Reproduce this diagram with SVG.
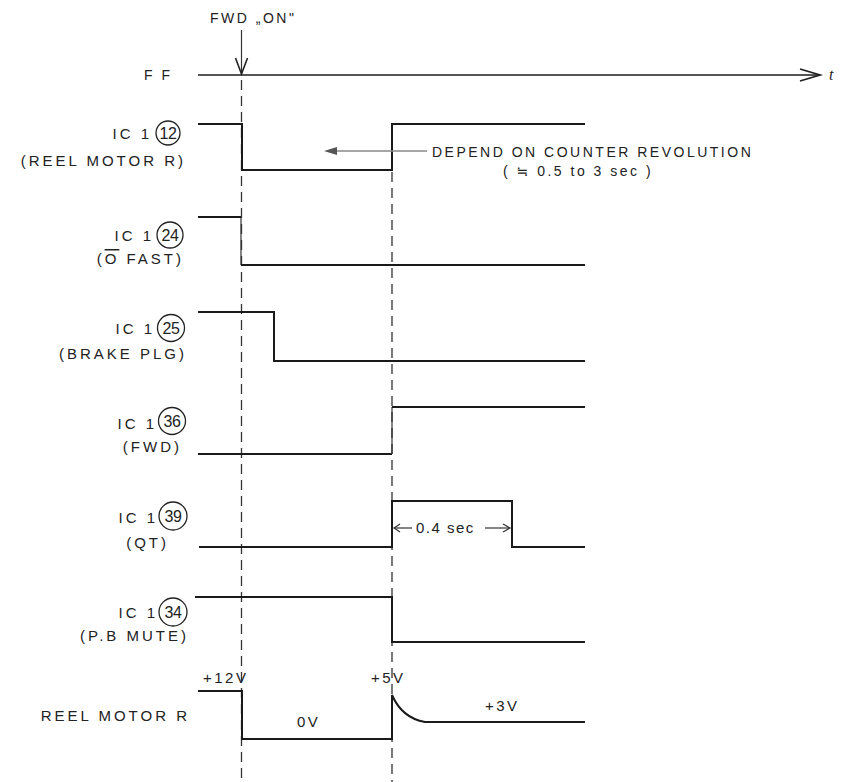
<svg xmlns="http://www.w3.org/2000/svg" width="845" height="782" viewBox="0 0 845 782">
<defs>
<style>
text{font-family:"Liberation Sans","DejaVu Sans",sans-serif;font-size:14px;fill:#222;letter-spacing:2.5px}
.lbl{text-anchor:end;font-size:15px;letter-spacing:3px}
.num{text-anchor:middle;font-size:16px;letter-spacing:-0.5px}
.sig{fill:none;stroke:#1a1a1a;stroke-width:2}
.dash{fill:none;stroke:#333;stroke-width:1.3;stroke-dasharray:10 6}
.thin{fill:none;stroke:#333;stroke-width:1.2}
.circ{fill:none;stroke:#222;stroke-width:1.3}
</style>
</defs>
<rect width="845" height="782" fill="#fff"/>
<g id="connectors">
<line class="dash" x1="241.5" y1="80" x2="241.5" y2="782"/>
<line class="dash" x1="392" y1="172" x2="392" y2="782"/>
<line x1="198" y1="75" x2="818" y2="75" stroke="#555" stroke-width="2"/>
<path d="M800,69 L820,75 L800,81" fill="none" stroke="#222" stroke-width="1.8"/>
<line class="thin" x1="241.5" y1="30" x2="241.5" y2="75" stroke-width="1.8"/>
<path d="M235.5,58 L241.5,74 L247.5,58" fill="none" stroke="#222" stroke-width="1.6"/>
</g>
<g id="header">
<text x="210" y="23" style="font-size:14px">FWD „ON"</text>
<text x="144" y="80" style="font-size:14px">F F</text>
<text x="829" y="80" style="font-size:16px;font-style:italic;font-family:'Liberation Serif',serif;letter-spacing:0">t</text>
</g>
<g id="ic12">
<text class="lbl" x="152" y="139">IC 1</text>
<circle class="circ" cx="168" cy="133" r="12"/>
<text class="num" x="168" y="139">12</text>
<text class="lbl" x="186" y="166">(REEL MOTOR R)</text>
<path class="sig" d="M198,124 H242 V170 H392 V124 H585"/>
</g>
<g id="depend">
<line x1="427" y1="151" x2="330" y2="151" stroke="#888" stroke-width="1.3"/>
<path d="M337,147 L324,151 L337,155 Z" fill="#555"/>
<text x="432" y="157">DEPEND ON COUNTER REVOLUTION</text>
<text x="503" y="176">( ≒ 0.5 to 3 sec )</text>
</g>
<g id="ic24">
<text class="lbl" x="154" y="241">IC 1</text>
<circle class="circ" cx="170" cy="235" r="13"/>
<text class="num" x="170" y="241">24</text>
<text class="lbl" x="184" y="264">(<tspan style="text-decoration:overline">O</tspan> FAST)</text>
<path class="sig" d="M198,217 H241"/>
<path class="thin" d="M241,217 V265" stroke-width="1.5"/>
<path class="sig" d="M241,265 H585"/>
</g>
<g id="ic25">
<text class="lbl" x="155" y="334">IC 1</text>
<circle class="circ" cx="171" cy="328" r="13.5"/>
<text class="num" x="171" y="334">25</text>
<text class="lbl" x="187" y="359">(BRAKE PLG)</text>
<path class="sig" d="M198,312 H274 V361 H585"/>
</g>
<g id="ic36">
<text class="lbl" x="157" y="429">IC 1</text>
<circle class="circ" cx="172" cy="421" r="13.5"/>
<text class="num" x="172" y="427">36</text>
<text class="lbl" x="182" y="452">(FWD)</text>
<path class="sig" d="M198,454 H392"/>
<path class="thin" d="M392,454 V407" stroke-width="1.5"/>
<path class="sig" d="M392,407 H585"/>
</g>
<g id="ic39">
<text class="lbl" x="158" y="523">IC 1</text>
<circle class="circ" cx="173" cy="516" r="14"/>
<text class="num" x="173" y="522">39</text>
<text class="lbl" x="169" y="548">(QT)</text>
<path class="sig" d="M199,547 H392 V501 H512 V547 H585"/>
<text x="416" y="533" style="letter-spacing:1.5px;font-size:15px">0.4 sec</text>
<line class="thin" x1="394" y1="528" x2="412" y2="528"/>
<path d="M400,524 L394,528 L400,532" fill="none" stroke="#333" stroke-width="1.2"/>
<line class="thin" x1="485" y1="528" x2="510" y2="528"/>
<path d="M503,524 L510,528 L503,532" fill="none" stroke="#333" stroke-width="1.2"/>
</g>
<g id="ic34">
<text class="lbl" x="158" y="618">IC 1</text>
<circle class="circ" cx="173" cy="612" r="14"/>
<text class="num" x="173" y="618">34</text>
<text class="lbl" x="189" y="641">(P.B MUTE)</text>
<path class="sig" d="M195,597 H392 V642 H585"/>
</g>
<g id="reel">
<text class="lbl" x="190" y="721">REEL MOTOR R</text>
<path class="sig" d="M198,691 H242 V739 H392 V695 Q402,718 425,722 H585"/>
<text x="203" y="683" style="font-size:15px">+12V</text>
<text x="297" y="727" style="font-size:15px">0V</text>
<text x="371" y="683" style="font-size:15px">+5V</text>
<text x="485" y="711" style="font-size:15px">+3V</text>
</g>
</svg>
